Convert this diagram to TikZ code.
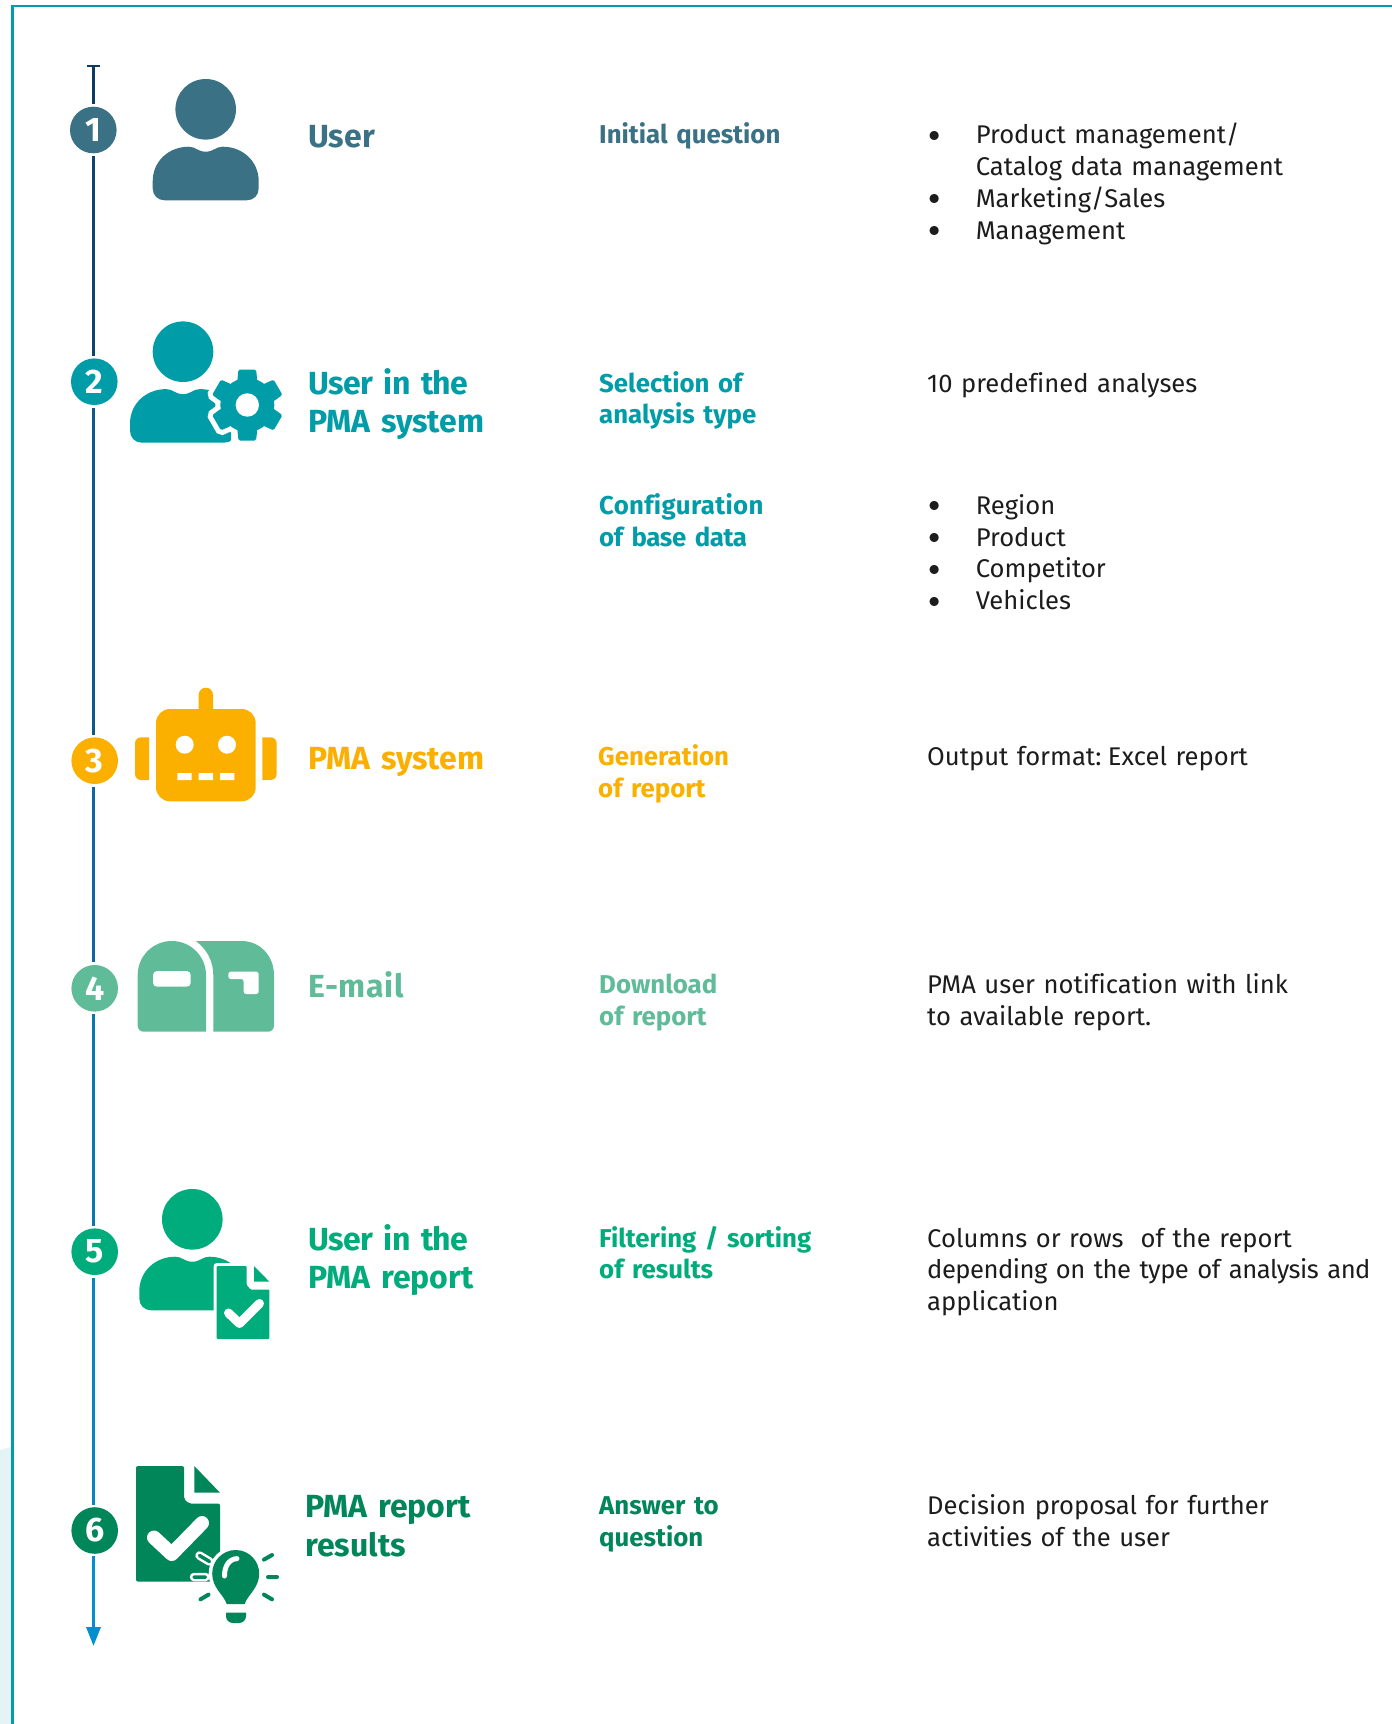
\documentclass[tikz,border=0pt]{standalone}
\usepackage{fontspec}
\setmainfont[WordSpace=0.8,Ligatures=NoCommon]{Fira Sans}
\newfontfamily\ttlfont[WordSpace=0.7,Ligatures=NoCommon,BoldFont={Fira Sans Bold}]{Fira Sans}
\newfontfamily\bulfont{DejaVu Sans}
\usetikzlibrary{arrows.meta,calc}
\definecolor{cframe}{HTML}{009EAA}
\definecolor{clight}{HTML}{E4F3F3}
\definecolor{cone}{HTML}{3A7184}
\definecolor{ctwo}{HTML}{009DA8}
\definecolor{cthree}{HTML}{FBB000}
\definecolor{cfour}{HTML}{60BC98}
\definecolor{cfive}{HTML}{00AC7B}
\definecolor{csix}{HTML}{008659}
\definecolor{ctext}{HTML}{1C1C1C}
\tikzset{
  num/.style={circle,minimum size=46.6pt,inner sep=0pt,outer sep=2.6pt,text=white,font=\fontsize{34}{34}\selectfont\bfseries},
  ttl/.style={anchor=base west,inner sep=0pt,yshift=-1pt,text width=300pt,align=left,font=\ttlfont\fontsize{32}{38.4}\selectfont\bfseries},
  sub/.style={anchor=base west,inner sep=0pt,yshift=-1pt,text width=300pt,align=left,font=\fontsize{25.8}{31.8}\selectfont\bfseries},
  bod/.style={anchor=base west,inner sep=0pt,yshift=-1pt,text width=463pt,align=left,text=ctext,font=\fontsize{25.6}{31.8}\selectfont},
  seg/.style={line width=3pt},
}
\newcommand{\bul}{\makebox[46.6pt][l]{\hspace{-4pt}\smash{\raisebox{-3.5pt}{\bulfont\fontsize{31}{31}\selectfont •}}}}
\newcommand{\lsp}[2]{{\addfontfeature{LetterSpace=#1}#2}}
\newcommand{\bodyshape}[1]{%
  \fill[#1] (-17,37.4) .. controls (-10,37.4) and (-8,42.4) .. (0,42.4) .. controls (8,42.4) and (10,37.4) .. (17,37.4) .. controls (37,37.4) and (53,52) .. (53,72) -- (53,79) .. controls (53,86) and (48,91) .. (41,91) -- (-41,91) .. controls (-48,91) and (-53,86) .. (-53,79) -- (-53,72) .. controls (-53,52) and (-37,37.4) .. (-17,37.4) -- cycle;
  \fill[#1] (0,0) circle (30.3);}
\newcommand{\gearparts}[1]{%
  \path[#1] (0,0) circle (27);
  \foreach \a in {0,60,...,300}{\path[#1,rotate=\a,rounded corners=1.5pt] (-10,-24) -- (-8.8,-35.5) -- (8.8,-35.5) -- (10,-24) -- cycle;}}
\begin{document}
\begin{tikzpicture}[x=1pt,y=-1pt]
\useasboundingbox (0,0) rectangle (1392,1724);
\fill[white] (0,0) rectangle (1392,1724);
% frame and corner tint
\fill[clight] (0,1450) -- (11.2,1447) -- (11.2,1724) -- (0,1724) -- cycle;
\draw[cframe,line width=2.2pt] (12.5,1724) -- (12.5,6.3) -- (1392,6.3);
% timeline nodes
\coordinate (tl) at (93.5,65);
\coordinate (tip) at (93.5,1646);
\node[num,fill=cone] (n1) at (93.3,130) {1};
\node[num,fill=ctwo] (n2) at (94.3,381.7) {2};
\node[num,fill=cthree] (n3) at (94.7,760.7) {3};
\node[num,fill=cfour] (n4) at (94.7,988.3) {4};
\node[num,fill=cfive] (n5) at (94.7,1251.7) {5};
\node[num,fill=csix] (n6) at (94.7,1530.5) {6};
% timeline connectors
\draw[seg,draw={rgb,255:red,13;green,60;blue,98},{Bar[width=13pt,line width=2.4pt,length=0pt]}-] (tl) -- (tl |- n1.north);
\draw[seg,draw={rgb,255:red,15;green,68;blue,110}] (tl |- n1.south) -- (tl |- n2.north);
\draw[seg,draw={rgb,255:red,15;green,88;blue,138}] (tl |- n2.south) -- (tl |- n3.north);
\draw[seg,draw={rgb,255:red,15;green,105;blue,160}] (tl |- n3.south) -- (tl |- n4.north);
\draw[seg,draw={rgb,255:red,12;green,118;blue,178}] (tl |- n4.south) -- (tl |- n5.north);
\draw[seg,draw={rgb,255:red,6;green,132;blue,195}] (tl |- n5.south) -- (tl |- n6.north);
\draw[seg,draw={rgb,255:red,0;green,144;blue,208},-{Triangle[length=19pt,width=14pt]}] (tl |- n6.south) -- (tip);
% icon 1: user
\begin{scope}[shift={(205.7,109.3)}]
\bodyshape{cone}
\end{scope}
% icon 2: user with gear
\begin{scope}
\clip (120,300) rectangle (231,450);
\begin{scope}[shift={(183,351.7)}]
\bodyshape{ctwo}
\end{scope}
\end{scope}
\begin{scope}[shift={(247.3,405)}]
\gearparts{fill=white,draw=white,line width=10pt}
\gearparts{fill=ctwo}
\fill[white] (0,0) circle (11.7);
\end{scope}
% icon 3: robot
\fill[cthree,rounded corners=14pt] (156,709) rectangle (255.7,801.3);
\fill[cthree] (198.7,712) -- (198.7,694.8) .. controls (198.7,690.8) and (201.9,687.7) .. (205.85,687.7) .. controls (209.8,687.7) and (213,690.8) .. (213,694.8) -- (213,712) -- cycle;
\fill[white] (184.7,744.7) circle (9) (227,744.7) circle (9);
\fill[white] (177.3,773) rectangle (191.7,780) (198.7,773) rectangle (213,780) (220,773) rectangle (234.3,780);
\fill[cthree] (149,737.3) -- (141,737.3) .. controls (137.7,737.3) and (135,740) .. (135,743.3) -- (135,774) .. controls (135,777.3) and (137.7,780) .. (141,780) -- (149,780) -- cycle;
\fill[cthree] (262.3,737.3) -- (270.7,737.3) .. controls (274,737.3) and (276.7,740) .. (276.7,743.3) -- (276.7,774) .. controls (276.7,777.3) and (274,780) .. (270.7,780) -- (262.3,780) -- cycle;
% icon 4: mailbox
\fill[cfour] (143.7,1031.7) .. controls (140.4,1031.7) and (137.7,1029) .. (137.7,1025.7) -- (137.7,975) .. controls (137.7,956.2) and (152.9,941) .. (171.8,941) .. controls (190.7,941) and (206,956.2) .. (206,975) -- (206,1031.7) -- cycle;
\fill[cfour] (195.7,941) -- (241.7,941) .. controls (259.5,941) and (274,955.5) .. (274,975) -- (274,1025.7) .. controls (274,1029) and (271.3,1031.7) .. (268,1031.7) -- (213.3,1031.7) -- (213.3,975) .. controls (213.3,961) and (206.5,948.5) .. (195.7,941) -- cycle;
\fill[white,rounded corners=4pt] (153,971) rectangle (190.7,986.7);
\fill[white,rounded corners=2.5pt] (228.3,971.7) -- (258.7,971.7) -- (258.7,994) -- (243.7,994) -- (243.7,979) -- (228.3,979) -- cycle;
% icon 5: user with document
\begin{scope}[shift={(192.3,1219.3)}]
\bodyshape{cfive}
\end{scope}
\draw[fill=cfive,draw=white,line width=6pt,line join=round] (216.7,1266) -- (246.7,1266) -- (246.7,1285) -- (250.5,1289.5) -- (269.3,1289.5) -- (269.3,1339) -- (216.7,1339) -- cycle;
\fill[cfive,rounded corners=1pt] (216.7,1266) -- (246.7,1266) -- (246.7,1285) -- (250.5,1289.5) -- (269.3,1289.5) -- (269.3,1339) -- (216.7,1339) -- cycle;
\fill[cfive] (254,1266) -- (269.3,1281.6) -- (254,1281.6) -- cycle;
\draw[white,line width=9pt,line join=round,line cap=round] (228.5,1313) -- (239.5,1323.5) -- (259.5,1303.5);
% icon 6: document with bulb
\fill[csix,rounded corners=2pt] (136,1466) -- (184,1466) -- (184,1499) -- (189,1503.5) -- (220,1503.5) -- (220,1581.6) -- (136,1581.6) -- cycle;
\fill[csix] (194.3,1466) -- (220,1492.7) -- (194.3,1492.7) -- cycle;
\draw[white,line width=14pt,line join=round,line cap=round] (154,1537.5) -- (171.7,1554) -- (202,1523);
\draw[fill=white,draw=white,line width=7pt] (226.7,1604) .. controls (224,1595) and (212.2,1588) .. (212.2,1573.6) .. controls (212.2,1560.6) and (222.7,1550) .. (235.7,1550) .. controls (248.7,1550) and (259.2,1560.6) .. (259.2,1573.6) .. controls (259.2,1588) and (247.4,1595) .. (244.7,1604) -- cycle;
\fill[csix] (226.7,1604) .. controls (224,1595) and (212.2,1588) .. (212.2,1573.6) .. controls (212.2,1560.6) and (222.7,1550) .. (235.7,1550) .. controls (248.7,1550) and (259.2,1560.6) .. (259.2,1573.6) .. controls (259.2,1588) and (247.4,1595) .. (244.7,1604) -- cycle;
\fill[csix] (226,1612.5) -- (246,1612.5) -- (246,1616) .. controls (246,1620) and (243,1623) .. (239,1623) -- (233,1623) .. controls (229,1623) and (226,1620) .. (226,1616) -- cycle;
\draw[white,line width=5pt,line cap=round] (224.5,1576) .. controls (224.5,1566) and (229,1559) .. (237,1558.6);
\draw[csix,line width=4pt,line cap=round] (264,1559.6) -- (272,1555) (268,1577) -- (277,1577) (264,1594.6) -- (272,1599.3) (200.5,1599.3) -- (208.5,1594.6);
\draw[white,line width=8.5pt,line cap=round] (199.5,1555.5) -- (209.5,1561.5) (194,1577) -- (205.5,1577);
\draw[csix,line width=3.5pt,line cap=round] (199.5,1555.5) -- (209.5,1561.5) (194,1577) -- (205.5,1577);
% titles
\node[ttl,text=cone] (t1) at (308,146) {User};
\node[ttl,text=ctwo] (t2) at (308,393.3) {\lsp{-1.9}{User in the}\\PMA system};
\node[ttl,text=cthree] (t3) at (308,768.7) {PMA system};
\node[ttl,text=cfour] (t4) at (308,996) {\lsp{2.3}{E-mail}};
\node[ttl,text=cfive] (t5) at (308,1249) {\lsp{-1.9}{User in the}\\PMA report};
\node[ttl,text=csix] (t6) at (305,1516.7) {PMA report\\results};
% middle column
\node[sub,text=cone] (s1) at (599,142.3) {Initial question};
\node[sub,text=ctwo] (s2) at (599,391) {Selection of\\analysis type};
\node[sub,text=ctwo] (s2b) at (599,513.3) {\lsp{1.3}{Configuration}\\\lsp{-1.5}{of base data}};
\node[sub,text=cthree] (s3) at (598,764.3) {Generation\\of report};
\node[sub,text=cfour] (s4) at (599,992.3) {Download\\of report};
\node[sub,text=cfive] (s5) at (599,1246) {Filtering / sorting\\of results};
\node[sub,text=csix] (s6) at (599,1513.3) {Answer to\\question};
% right column
\node[bod] (b1) at (929,142.7) {\bul Product management/\\\hspace*{46.6pt}Catalog data management\\\bul Marketing/Sales\\\bul Management};
\node[bod] (b2) at (927,391.7) {10 predefined analyses};
\node[bod] (b2b) at (929,513.3) {\bul Region\\\bul Product\\\bul Competitor\\\bul Vehicles};
\node[bod] (b3) at (927,764.3) {Output format:\kern-2pt\ Excel report};
\node[bod] (b4) at (927,992.3) {PMA user notification with link\\to available report.};
\node[bod] (b5) at (927,1246) {Columns or rows\ \ of the report\\\lsp{-2}{depending on the type of analysis and}\\application};
\node[bod] (b6) at (927,1513.3) {Decision proposal for further\\activities of the user};
\end{tikzpicture}
\end{document}
